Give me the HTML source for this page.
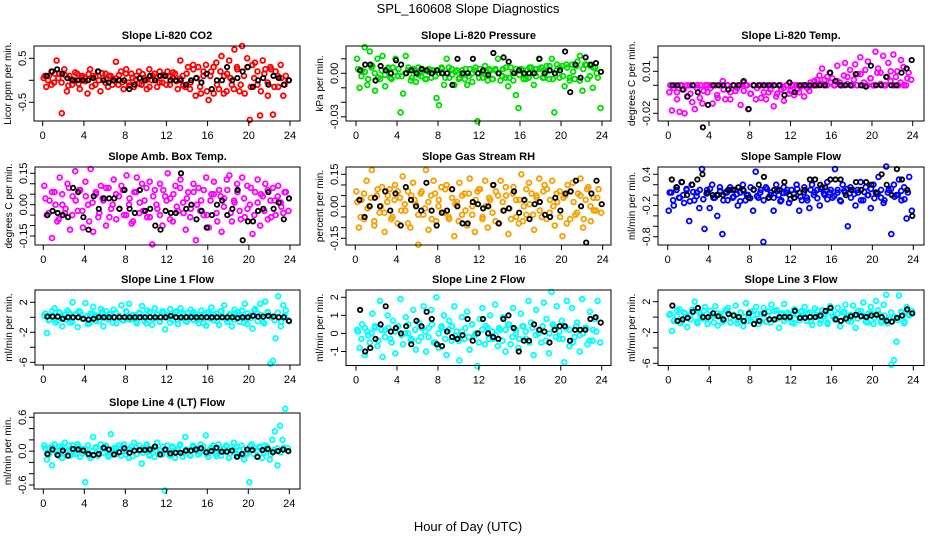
<!DOCTYPE html>
<html><head><meta charset="utf-8"><style>
html,body{margin:0;padding:0;background:#fff;}
svg{display:block;font-family:"Liberation Sans",Arial,sans-serif;}
</style></head><body>
<svg id="chart" width="936" height="540" viewBox="0 0 936 540">
<text x="468" y="13" text-anchor="middle" font-size="13">SPL_160608  Slope Diagnostics</text>
<text x="468" y="531" text-anchor="middle" font-size="13">Hour of Day (UTC)</text>
</svg>
<script>
const xTicks=[0,4,8,12,16,20,24];
const co2Vals=[0.05,-0.15,0.1,0.2,-0.05,0.45,0.15,-0.75,0.25,-0.25,0.1,-0.1,0.0,0.15,-0.2,0.1,0.05,-0.3,0.25,0.1,-0.1,0.2,-0.25,0.05,0.15,-0.15,0.1,0.0,0.42,-0.1,0.2,-0.2,0.25,-0.05,0.15,-0.15,0.1,0.2,-0.1,0.05,-0.2,0.25,0.0,0.15,-0.15,0.2,-0.05,0.1,0.2,-0.1,0.05,0.15,-0.2,0.45,0.1,-0.15,0.3,-0.05,0.35,-0.35,0.3,-0.3,0.1,0.35,-0.45,0.2,-0.3,0.4,-0.2,0.55,0.1,-0.25,0.45,-0.1,0.7,0.3,-0.25,0.78,-0.3,0.5,-0.9,0.35,0.4,-0.1,-0.8,0.45,0.25,-0.35,0.3,-0.78,0.2,-0.15,0.35,-0.35,0.1,0.0];
const co2Core=[0.1,0.0,-0.1,0.15,0.05,-0.05,0.12,-0.12,0.02,0.18,-0.08,0.06,-0.02,0.14,-0.14,0.08,0.0,0.16,-0.06,0.1,-0.1,0.04,0.12,-0.04,0.15,-0.12,0.06,0.02,-0.08,0.14,0.0,-0.15,0.1,0.05,-0.05,0.12,-0.1,0.08,0.18,-0.02,0.04,-0.12,0.15,-0.2,0.25,0.05,-0.15,0.2,-0.25,0.1,0.3,-0.1,0.2,-0.3,0.15,0.05,-0.2,0.25,-0.1,0.1,0.3,-0.15,0.05,0.2,-0.25,0.15,-0.05,0.25,-0.15,0.1,0.05,-0.1];
const co2Black=[0.1,0.2,0.25,0.15,0.05,0.0,0.0,0.0,0.0,0.05,0.2,0.0,-0.05,0.0,0.0,0.0,-0.2,-0.1,0.05,0.0,0.1,0.0,0.1,0.1,0.0,0.0,0.0,-0.1,0.0,0.05,-0.05,0.15,-0.2,0.0,0.0,0.3,0.0,0.05,0.2,0.3,-0.15,0.0,0.05,-0.1,0.1,0.05,-0.1,0.0];
const pressVals=[0.01,-0.01,0.002,0.018,-0.008,0.015,0.005,-0.012,0.01,-0.004,0.012,-0.009,0.003,-0.003,0.004,0.01,-0.002,-0.027,-0.014,0.012,0.002,-0.005,0.003,-0.006,0.004,-0.002,0.002,-0.004,0.003,-0.003,0.002,-0.017,-0.022,0.004,-0.008,0.01,-0.003,0.003,-0.008,0.002,-0.003,0.002,-0.004,-0.008,0.003,-0.006,0.002,-0.033,0.003,-0.003,0.005,-0.005,0.002,-0.004,0.003,0.01,-0.005,0.003,-0.003,-0.009,0.004,-0.005,-0.015,-0.024,0.003,-0.004,0.002,-0.003,0.004,-0.008,0.003,0.01,0.004,-0.003,0.005,-0.004,0.01,-0.027,0.006,-0.003,0.005,-0.009,0.004,-0.005,0.006,-0.004,0.008,0.012,-0.012,0.006,-0.004,0.005,-0.01,0.004,-0.003,-0.024];
const pressCore=[0.003,-0.002,0.001,-0.004,0.004,0.0,-0.003,0.002,-0.001,0.004,-0.004,0.001,0.003,-0.002,0.0,0.004,-0.003,0.002,-0.001,0.003,-0.004,0.001,0.002,-0.002,0.0,0.003,-0.003,0.004,-0.001,0.001,-0.004,0.002,0.003,-0.002,0.0,0.004,-0.003,0.001,-0.001,0.003,-0.004,0.002,0.0,-0.002,0.004,-0.003,0.001,0.003,-0.001,0.002,-0.004,0.004,0.0,-0.002,0.003,-0.003,0.001,0.005,-0.004,0.002,0.004,-0.002,0.006,-0.003,0.001,0.005,-0.005,0.003,0.006,-0.002,0.004,0.0];
const pressBlack=[0.002,0.006,0.006,-0.005,0.005,0.002,0.0,0.009,0.006,0.0,0.002,0.0,0.003,0.002,0.0,0.002,0.0,0.0,-0.008,0.01,0.0,0.0,0.01,0.0,0.002,-0.001,0.014,0.0,0.011,0.008,0.0,0.002,0.0,0.0,0.0,0.01,0.0,0.002,0.0,0.002,0.015,-0.013,0.006,-0.003,0.011,0.006,0.007,0.001];
const tempVals=[-0.005,-0.018,0.0,-0.01,-0.019,0.0,-0.02,-0.008,0.0,-0.012,-0.017,0.0,-0.009,-0.013,0.0,-0.005,0.0,-0.013,0.0,-0.009,0.0,0.003,-0.01,0.0,-0.01,0.0,-0.004,0.0,-0.014,0.002,0.0,-0.017,-0.006,0.0,-0.01,0.0,-0.009,0.0,-0.01,-0.005,0.0,-0.015,-0.008,0.0,-0.003,-0.011,0.0,-0.006,0.0,-0.007,0.0,-0.005,0.0,-0.008,0.0,-0.004,0.0,0.003,0.0,0.007,0.012,0.004,0.0,0.009,0.005,0.0,0.014,0.002,0.0,0.016,0.006,0.011,0.0,0.015,0.008,0.02,0.0,0.011,0.017,0.005,0.0,0.024,0.012,0.009,0.021,0.0,0.016,0.01,0.022,0.006,0.0,0.018,0.013,0.0,0.009,0.004];
const tempCore=[0.0,-0.002,-0.005,0.0,-0.003,0.0,-0.006,0.0,-0.002,0.0,-0.004,0.0,-0.002,0.0,-0.007,0.0,-0.003,0.0,-0.005,0.0,-0.002,0.0,-0.004,0.0,-0.006,0.0,-0.002,0.0,-0.005,0.0,-0.003,0.0,-0.006,0.0,-0.002,0.0,-0.004,0.0,-0.003,-0.001,0.0,-0.002,0.002,0.0,0.004,0.001,0.0,0.006,0.002,0.0,0.003,0.0,0.007,0.001,0.0,0.004,0.0,0.008,0.002,0.0,0.005,0.0,0.009,0.001,0.0,0.006,0.003,0.0,0.01,0.002,0.0,0.005];
const tempBlack=[0.0,0.0,-0.003,-0.008,0.0,-0.005,-0.03,-0.014,0.0,0.0,0.0,-0.003,0.0,0.0,0.003,-0.017,0.0,0.0,0.0,0.0,0.0,0.0,-0.007,0.002,-0.005,0.0,0.0,0.0,0.0,0.0,0.0,0.009,0.003,0.0,0.0,0.0,0.008,0.0,-0.001,0.014,0.0,0.0,0.006,0.0,0.0,0.009,0.012,0.018];
const ambVals=[0.09,-0.05,0.02,-0.16,0.06,-0.08,0.13,0.0,-0.04,0.1,-0.12,0.04,0.16,-0.03,0.07,-0.11,0.11,0.0,0.17,-0.13,0.05,-0.06,0.09,0.02,-0.1,0.08,-0.02,0.12,-0.07,0.04,0.09,-0.05,0.14,0.0,-0.09,0.06,0.13,-0.04,0.1,0.02,-0.06,0.11,-0.19,0.07,-0.02,0.1,-0.1,0.04,0.15,0.03,-0.08,0.09,-0.03,0.12,0.01,-0.12,0.06,-0.02,0.1,-0.17,0.08,0.02,-0.05,0.13,-0.11,0.05,0.11,-0.04,0.07,-0.13,0.03,0.12,0.14,-0.08,0.01,0.1,-0.03,0.13,-0.06,0.09,0.0,-0.14,0.06,0.12,-0.1,0.04,0.1,-0.07,0.02,0.08,-0.05,0.09,0.01,-0.04,0.06,-0.03];
const ambCore=[0.03,-0.04,0.06,0.0,-0.07,0.05,-0.02,0.08,-0.05,0.02,0.07,-0.03,0.04,-0.08,0.01,0.06,-0.04,0.03,0.08,-0.06,0.0,0.05,-0.02,0.07,-0.05,0.03,-0.08,0.06,0.01,-0.03,0.08,-0.06,0.04,0.0,-0.05,0.07,0.02,-0.07,0.05,-0.01,0.08,-0.04,0.03,-0.06,0.06,0.0,-0.03,0.07,-0.05,0.02,0.05,-0.08,0.04,-0.01,0.07,-0.04,0.02,0.06,-0.07,0.03,-0.02,0.08,-0.05,0.01,0.05,-0.03,0.07,-0.06,0.02,0.04,-0.01,0.06];
const ambBlack=[-0.05,-0.03,-0.04,-0.05,-0.06,0.08,0.06,-0.06,-0.12,0.04,-0.02,0.03,0.03,0.03,-0.02,0.07,-0.02,-0.04,0.07,-0.03,-0.02,-0.1,-0.12,-0.03,-0.04,-0.04,0.15,-0.02,0.0,-0.07,-0.03,-0.11,-0.05,0.0,0.02,-0.05,-0.02,0.07,-0.17,-0.08,-0.08,-0.03,-0.02,0.06,-0.02,0.01,-0.07,0.03];
const rhVals=[0.07,-0.1,0.03,-0.06,0.12,0.0,0.17,-0.09,0.05,-0.03,0.09,-0.12,0.02,0.08,-0.05,0.1,-0.08,0.04,0.14,-0.02,0.07,-0.1,0.11,0.01,-0.18,0.06,-0.04,0.17,-0.11,0.05,0.12,-0.07,0.03,0.09,-0.03,0.1,-0.06,0.08,-0.14,0.02,0.11,-0.04,0.06,-0.09,0.13,0.0,-0.12,0.07,0.08,-0.05,0.12,-0.1,0.03,0.1,-0.07,0.05,0.12,-0.02,0.09,-0.13,-0.06,0.09,0.03,-0.08,0.15,0.0,-0.04,0.11,0.06,-0.11,0.04,0.13,-0.05,0.1,0.08,-0.03,0.12,-0.09,0.02,0.07,-0.14,0.05,0.1,-0.06,0.11,-0.04,0.06,0.13,-0.1,0.03,0.09,-0.07,0.04,-0.02,0.08,-0.03];
const rhCore=[0.02,-0.05,0.06,-0.01,0.04,-0.07,0.08,0.0,-0.03,0.05,-0.06,0.03,0.07,-0.02,0.01,-0.08,0.05,0.03,-0.04,0.07,-0.01,0.02,-0.06,0.06,0.0,-0.03,0.08,-0.05,0.04,0.01,-0.07,0.05,-0.02,0.06,-0.04,0.03,0.08,-0.06,0.0,0.04,-0.03,0.07,-0.08,0.02,0.05,-0.01,0.06,-0.05,0.03,-0.07,0.08,0.01,-0.04,0.05,-0.02,0.07,-0.06,0.03,0.0,0.06,-0.05,0.04,-0.08,0.07,0.02,-0.03,0.05,-0.06,0.08,0.0,-0.02,0.04];
const rhBlack=[0.03,-0.05,0.0,0.04,0.0,0.07,-0.02,0.06,-0.09,0.09,0.03,0.0,-0.02,0.11,-0.02,-0.09,-0.03,-0.02,0.08,0.0,-0.08,-0.08,0.02,0.01,-0.01,0.0,0.1,-0.08,-0.02,-0.01,0.07,-0.03,0.03,-0.06,0.01,0.02,-0.04,-0.05,0.04,-0.02,0.06,0.07,0.12,0.0,-0.17,0.06,0.12,0.01];
const flowVals=[-0.3,0.05,-0.2,0.15,-0.05,0.25,-0.15,0.1,-0.5,0.2,-0.1,0.05,-0.25,0.5,-0.65,0.1,-0.25,0.2,-0.05,-0.4,0.15,-0.75,0.05,-0.1,0.15,-0.05,0.1,-0.2,0.05,0.2,-0.1,0.0,0.15,-0.3,0.45,-0.05,0.1,-0.9,0.15,-0.05,0.05,-0.3,0.2,0.0,-0.1,0.15,0.05,-0.15,0.1,-0.05,0.2,-0.3,-0.1,0.15,-0.05,-0.25,0.2,0.05,0.1,-0.2,0.15,0.0,0.25,0.05,-0.05,0.5,0.1,-0.1,0.2,0.05,-0.6,0.15,0.1,-0.2,0.05,0.25,-0.1,0.15,0.0,-0.25,0.2,0.05,0.35,-0.05,-0.15,0.55,0.1,-0.75,0.2,0.0,0.3,-0.1,0.15,-0.45,0.35,-0.3];
const flowCore=[0.05,-0.1,0.1,-0.05,0.0,0.12,-0.12,0.06,-0.02,0.1,-0.08,0.03,0.12,-0.05,0.0,0.08,-0.1,0.05,0.1,-0.03,0.02,-0.12,0.08,0.0,-0.06,0.11,-0.02,0.05,-0.1,0.12,0.0,-0.05,0.08,-0.12,0.04,0.1,-0.08,0.02,0.12,-0.03,0.06,-0.1,0.1,0.0,-0.06,0.12,0.03,-0.08,0.1,-0.02,0.05,-0.12,0.08,0.12,-0.05,0.02,0.1,-0.1,0.06,0.0,0.12,-0.06,0.03,0.1,-0.1,0.05,0.12,-0.03,0.0,0.08,-0.08,0.05];
const flowBlack=[0.3,0.15,0.25,0.0,0.2,0.3,0.4,0.05,0.0,0.0,0.0,0.1,0.1,0.15,0.1,-0.05,0.1,0.2,0.35,-0.05,0.1,0.1,0.25,0.0,-0.05,0.05,0.1,0.3,0.3,0.2,0.15,0.3,0.3,0.3,0.0,0.1,0.25,0.1,0.25,0.2,0.05,0.4,0.2,0.0,0.5,0.3,0.1,-0.4];
const l1Vals=[0.2,-2.1,-0.3,0.8,1.2,-0.5,0.6,-1.2,0.3,0.9,-0.7,2.0,0.4,-1.3,0.7,-0.2,1.9,-0.9,0.5,1.4,-0.5,0.2,1.1,-1.2,0.8,-0.3,0.5,1.0,-0.8,0.2,1.6,-0.4,0.7,1.8,-0.2,0.3,-0.8,0.6,1.5,-0.5,0.9,0.1,-1.0,1.2,0.4,-0.6,0.8,-1.6,0.3,1.1,-0.4,0.7,-0.9,1.2,0.2,-0.5,0.6,1.0,-0.3,0.4,-0.8,0.9,0.2,-1.1,0.7,1.3,-0.4,0.5,-1.0,0.8,1.6,-0.2,0.4,-1.2,1.0,0.3,-0.6,0.9,1.8,-0.9,0.2,-1.5,1.1,0.5,1.8,-0.6,2.1,0.6,-6.2,-5.8,-2.8,2.8,-1.2,1.6,0.9,-0.4];
const l1Core=[0.5,-0.4,0.2,-0.7,0.7,0.0,-0.3,0.6,-0.6,0.3,0.8,-0.2,0.1,-0.8,0.5,0.2,-0.5,0.7,-0.1,0.4,-0.7,0.6,0.0,-0.4,0.8,-0.3,0.3,-0.6,0.5,0.1,-0.8,0.7,-0.2,0.4,-0.5,0.6,0.0,-0.7,0.3,0.8,-0.1,0.5,-0.6,0.2,0.7,-0.4,0.1,-0.8,0.6,-0.2,0.4,-0.5,0.8,0.0,-0.6,0.3,-0.3,0.7,0.1,-0.7,0.5,-0.1,0.9,-0.5,0.3,-0.8,0.7,0.0,-0.4,0.6,-0.6,0.2];
const l1Black=[0.1,0.1,0.1,-0.2,0.0,0.0,0.0,-0.2,-0.3,-0.2,0.0,0.0,0.0,0.0,0.0,0.0,0.0,0.0,0.0,0.0,0.0,0.0,0.0,0.0,0.2,0.0,0.0,0.0,0.0,0.0,0.0,0.0,0.0,0.0,0.0,0.0,0.0,-0.1,0.0,0.0,0.2,0.1,0.1,0.2,0.1,0.0,0.0,-0.5];
const l2Vals=[0.2,-0.8,0.5,-1.2,0.1,-0.5,1.1,0.3,-0.7,1.8,-1.3,0.2,1.0,-0.3,0.7,-1.1,0.4,1.9,-0.6,0.9,0.0,-0.4,1.3,-0.9,0.6,-0.2,1.5,-1.0,0.3,1.3,-0.5,2.0,-0.8,0.4,1.0,-1.2,0.7,-0.4,1.5,0.1,-1.5,0.9,-0.3,1.2,-0.9,0.5,-0.1,-1.8,0.8,1.4,-0.6,0.3,1.0,-0.3,1.6,-0.7,0.2,0.9,-1.0,0.5,-0.6,1.4,0.2,-0.8,1.1,0.4,-0.3,1.8,0.6,-1.2,1.3,0.0,-0.5,1.7,0.8,-1.1,2.3,0.4,1.5,-0.3,0.7,-1.6,1.8,-0.7,1.4,-0.2,0.6,-1.0,1.9,0.3,-0.6,1.2,-0.4,0.8,1.8,-0.5];
const l2Core=[0.1,-0.3,0.3,-0.1,0.0,0.4,-0.4,0.2,-0.2,0.3,-0.5,0.1,0.4,-0.1,0.0,0.5,-0.3,0.2,-0.4,0.3,0.1,-0.2,0.5,-0.5,0.0,0.3,-0.3,0.2,0.4,-0.1,-0.4,0.1,0.3,-0.2,0.5,0.0,-0.5,0.2,0.4,-0.3,0.1,-0.1,0.3,-0.4,0.2,0.5,-0.2,0.0,-0.3,0.4,0.1,-0.5,0.3,-0.1,0.2,0.4,-0.4,0.0,0.5,-0.2,0.1,-0.3,0.3,0.2,-0.5,0.4,-0.1,0.0,0.3,-0.4,0.2,0.1];
const l2Black=[1.3,-1.0,-0.8,-0.3,0.5,1.5,0.1,0.3,0.0,0.4,-0.6,0.7,0.4,1.2,0.8,-0.6,-0.7,0.1,-0.2,-0.3,-0.1,0.8,-0.4,0.0,0.8,0.0,-0.2,-0.3,0.8,1.0,0.3,-1.0,-0.4,-0.4,0.5,0.2,0.1,-0.5,0.2,0.4,0.4,-0.4,0.2,0.2,0.2,0.8,0.9,0.6];
const l3Vals=[0.3,-1.8,-0.4,0.9,1.0,-0.6,0.5,-1.3,0.2,1.0,2.0,-0.8,0.5,-0.2,1.3,-0.9,0.8,0.1,1.4,-1.1,0.4,-0.6,0.9,1.2,-0.7,0.3,1.5,-0.4,0.6,-1.2,1.8,0.2,-0.5,0.8,1.3,-0.9,0.4,1.2,-0.6,0.7,1.6,-0.3,0.9,-1.4,0.5,1.7,-0.2,0.4,-0.7,1.0,0.3,-0.4,0.8,1.3,-0.5,0.6,-1.0,1.1,0.2,-0.8,0.9,0.4,-0.9,1.4,0.1,-0.3,1.2,-1.2,0.6,1.6,-0.5,0.3,1.5,-1.4,0.8,0.2,1.9,-0.6,0.5,1.3,-0.9,2.1,0.4,-0.7,1.6,2.9,-0.3,-6.2,-5.6,-3.2,2.8,0.6,-0.8,1.3,0.2,0.8];
const l3Core=[0.4,-0.5,0.1,-0.8,0.6,0.0,-0.3,0.7,-0.6,0.2,0.8,-0.2,0.3,-0.7,0.5,0.1,-0.4,0.8,-0.1,0.3,-0.8,0.6,0.0,-0.5,0.7,-0.3,0.4,-0.6,0.5,0.2,-0.7,0.8,-0.2,0.3,-0.5,0.6,0.1,-0.8,0.4,0.7,0.0,0.5,-0.6,0.3,0.8,-0.4,0.1,-0.7,0.6,-0.1,0.4,-0.5,0.7,0.0,-0.6,0.3,-0.2,0.8,0.1,-0.7,0.5,-0.1,0.9,-0.5,0.2,-0.8,0.6,0.0,-0.4,0.7,-0.6,0.3];
const l3Black=[1.5,-0.5,-0.3,-0.1,0.7,1.2,0.0,0.0,0.5,0.1,-0.3,0.4,0.2,0.0,-0.5,0.5,-0.9,-0.5,0.5,-0.3,-0.3,0.0,0.0,0.0,0.8,-0.1,-0.1,0.0,0.0,0.2,0.8,1.2,-0.3,-0.5,-0.2,0.1,0.3,0.1,0.0,0.2,0.3,0.0,-0.5,-0.6,-0.1,0.2,1.0,0.5];
const l4Vals=[0.1,-0.15,0.05,-0.25,0.12,-0.05,0.08,-0.12,0.15,0.0,-0.08,0.1,-0.05,0.12,-0.1,0.04,-0.55,0.1,-0.12,0.25,0.05,-0.08,0.12,-0.03,0.08,-0.1,0.3,0.05,-0.05,0.1,-0.08,0.12,0.0,-0.12,0.08,0.15,-0.05,0.1,-0.22,0.06,0.12,-0.08,0.04,-0.1,0.15,0.02,-0.06,-0.7,0.1,-0.05,0.08,-0.12,0.04,0.12,-0.1,0.25,0.0,-0.08,0.1,0.05,-0.06,0.12,0.02,0.28,-0.1,0.06,0.1,-0.05,0.12,-0.08,0.04,0.1,-0.12,0.06,0.15,-0.06,0.02,0.1,-0.15,-0.05,-0.55,0.12,0.05,-0.1,0.08,-0.12,0.1,0.02,-0.15,0.2,0.35,-0.25,0.45,0.2,0.75,0.05];
const l4Core=[0.05,-0.06,0.08,0.0,-0.08,0.06,-0.03,0.1,-0.05,0.02,0.08,-0.04,0.04,-0.08,0.0,0.07,-0.05,0.03,0.1,-0.07,0.01,0.06,-0.02,0.08,-0.06,0.04,-0.09,0.07,0.0,-0.03,0.09,-0.06,0.05,0.01,-0.05,0.08,0.02,-0.08,0.06,-0.01,0.1,-0.04,0.03,-0.07,0.07,0.0,-0.03,0.08,-0.05,0.02,0.06,-0.09,0.04,-0.01,0.08,-0.04,0.02,0.07,-0.08,0.03,-0.02,0.09,-0.05,0.01,0.06,-0.03,0.08,-0.06,0.02,0.05,-0.02,0.06];
const l4Black=[-0.05,0.03,-0.07,0.01,-0.08,0.04,0.03,0.01,-0.05,-0.07,-0.05,0.06,0.03,-0.06,-0.02,0.05,-0.03,0.01,0.02,0.02,0.03,0.08,-0.06,0.03,-0.04,-0.03,-0.03,0.01,0.01,0.03,0.05,-0.02,0.0,0.06,-0.01,-0.01,0.01,-0.1,-0.05,0.03,0.02,-0.1,0.02,0.04,-0.02,0.0,0.03,0.0];

const panels=[
 {id:'co2',title:'Slope Li-820 CO2',ylab:'Licor ppm per min.',color:'#ff0000',vals:co2Vals,core:co2Core,blk:co2Black,L:34,R:300,T:46,B:121,x0:42.7,x24:290,v1:0.5,p1:58.3,v2:-0.5,p2:102.3,ticks:[0.5,0,-0.5],labels:['0.5','','-0.5']},
 {id:'pressure',title:'Slope Li-820 Pressure',ylab:'kPa per min.',color:'#00dd00',vals:pressVals,core:pressCore,blk:pressBlack,L:346,R:611,T:46,B:121,x0:356,x24:602,v1:0.01,p1:58.8,v2:-0.03,p2:116.8,ticks:[0.01,0,-0.01,-0.02,-0.03],labels:['','0.00','','','-0.03']},
 {id:'licor-temp',title:'Slope Li-820 Temp.',ylab:'degrees C per min.',color:'#ff00ff',vals:tempVals,core:tempCore,blk:tempBlack,L:658,R:924,T:46,B:121,x0:668.3,x24:912.7,v1:0.01,p1:71.3,v2:-0.02,p2:113.3,ticks:[0.02,0.01,0,-0.01,-0.02],labels:['','0.01','','','-0.02']},
 {id:'amb-box-temp',title:'Slope Amb. Box Temp.',ylab:'degrees C per min.',color:'#ff00ff',vals:ambVals,core:ambCore,blk:ambBlack,L:35,R:300,T:167,B:245,x0:43.3,x24:290,v1:0.15,p1:173.3,v2:-0.15,p2:236,ticks:[0.15,0.1,0.05,0,-0.05,-0.1,-0.15],labels:['0.15','','','0.00','','','-0.15']},
 {id:'gas-rh',title:'Slope Gas Stream RH',ylab:'percent per min.',color:'#f5a000',vals:rhVals,core:rhCore,blk:rhBlack,L:346,R:611,T:167,B:245,x0:355.3,x24:602.7,v1:0.15,p1:174.3,v2:-0.15,p2:238.3,ticks:[0.15,0.1,0.05,0,-0.05,-0.1,-0.15],labels:['0.15','','','0.00','','','-0.15']},
 {id:'sample-flow',title:'Slope Sample Flow',ylab:'ml/min per min.',color:'#0000ff',vals:flowVals,core:flowCore,blk:flowBlack,L:658,R:924,T:167,B:245,x0:667.7,x24:913.3,v1:0.4,p1:174.3,v2:-0.8,p2:236.7,ticks:[0.4,0.2,0,-0.2,-0.4,-0.6,-0.8],labels:['0.4','','','-0.2','','','-0.8']},
 {id:'line1-flow',title:'Slope Line 1 Flow',ylab:'ml/min per min.',color:'#00ffff',vals:l1Vals,core:l1Core,blk:l1Black,L:35,R:300,T:290,B:365,x0:43.3,x24:290,v1:2,p1:302.3,v2:-6,p2:362.3,ticks:[2,0,-2,-4,-6],labels:['2','','-2','','-6']},
 {id:'line2-flow',title:'Slope Line 2 Flow',ylab:'ml/min per min.',color:'#00ffff',vals:l2Vals,core:l2Core,blk:l2Black,L:346,R:611,T:290,B:365.5,x0:356,x24:601.7,v1:2,p1:297.3,v2:-1,p2:351.5,ticks:[2,1,0,-1],labels:['2','1','0','-1']},
 {id:'line3-flow',title:'Slope Line 3 Flow',ylab:'ml/min per min.',color:'#00ffff',vals:l3Vals,core:l3Core,blk:l3Black,L:658,R:924,T:290,B:365.5,x0:668.3,x24:913.3,v1:2,p1:301.7,v2:-6,p2:363.3,ticks:[2,0,-2,-4,-6],labels:['2','','-2','','-6']},
 {id:'line4-flow',title:'Slope Line 4 (LT) Flow',ylab:'ml/min per min.',color:'#00ffff',vals:l4Vals,core:l4Core,blk:l4Black,L:34,R:300,T:413,B:489,x0:43.3,x24:289.3,v1:0.6,p1:417.3,v2:-0.6,p2:485,ticks:[0.6,0.4,0.2,0,-0.2,-0.4,-0.6],labels:['0.6','','','0.0','','','-0.6']}
];
const NS='http://www.w3.org/2000/svg';
const svg=document.getElementById('chart');
function mk(tag,attrs,parent){const e=document.createElementNS(NS,tag);for(const k in attrs)e.setAttribute(k,attrs[k]);(parent||svg).appendChild(e);return e;}
panels.forEach(p=>{
  const g=mk('g',{});
  
  
  const xs=h=>p.x0+(p.x24-p.x0)*h/24;
  const ys=v=>p.p1+(v-p.v1)*(p.p2-p.p1)/(p.v2-p.v1);
  const pts=mk('g',{fill:'none',stroke:p.color,'stroke-width':1.8},g);
  
  
  p.core.forEach((v,i)=>{
    const c=mk('circle',{cx:xs(0.2+i*23.6/p.core.length).toFixed(1),cy:ys(v).toFixed(1),r:2.4},pts);
    
    
  });
  p.vals.forEach((v,i)=>{
    const c=mk('circle',{cx:xs(0.1+i*24/p.vals.length).toFixed(1),cy:ys(v).toFixed(1),r:2.4},pts);
    
    
  });
  const bk=mk('g',{fill:'none',stroke:'#000','stroke-width':1.8},g);
  
  
  p.blk.forEach((v,i)=>{
    const c=mk('circle',{cx:xs(0.4+i*23.5/(p.blk.length-1)).toFixed(1),cy:ys(v).toFixed(1),r:2.2},bk);
    
    
  });
  const box=mk('rect',{x:p.L,y:p.T,width:p.R-p.L,height:p.B-p.T,fill:'none',stroke:'#000','stroke-width':1},g);
  
  
  const t=mk('text',{x:(p.L+p.R)/2,y:p.T-7,'text-anchor':'middle','font-size':11,'font-weight':'bold'},g);
  t.textContent=p.title;
  
  
  const yl=mk('text',{x:0,y:0,'text-anchor':'middle','font-size':10,transform:`translate(${p.L-23},${(p.T+p.B)/2}) rotate(-90)`},g);
  yl.textContent=p.ylab;
  
  
  xTicks.forEach(h=>{
    const x=xs(h);
    mk('line',{x1:x,x2:x,y1:p.B,y2:p.B+5,stroke:'#000'},g);
    const tl=mk('text',{x:x,y:p.B+18,'text-anchor':'middle','font-size':11},g);
    tl.textContent=h;
    
    
  });
  p.ticks.forEach((v,i)=>{
    const y=ys(v);
    mk('line',{x1:p.L-5,x2:p.L,y1:y,y2:y,stroke:'#000'},g);
    if(p.labels[i]){
      const tl=mk('text',{x:0,y:0,'text-anchor':'middle','font-size':11,transform:`translate(${p.L-8},${y}) rotate(-90)`},g);
      tl.textContent=p.labels[i];
      
      
    }
  });
});
</script>
</body></html>
